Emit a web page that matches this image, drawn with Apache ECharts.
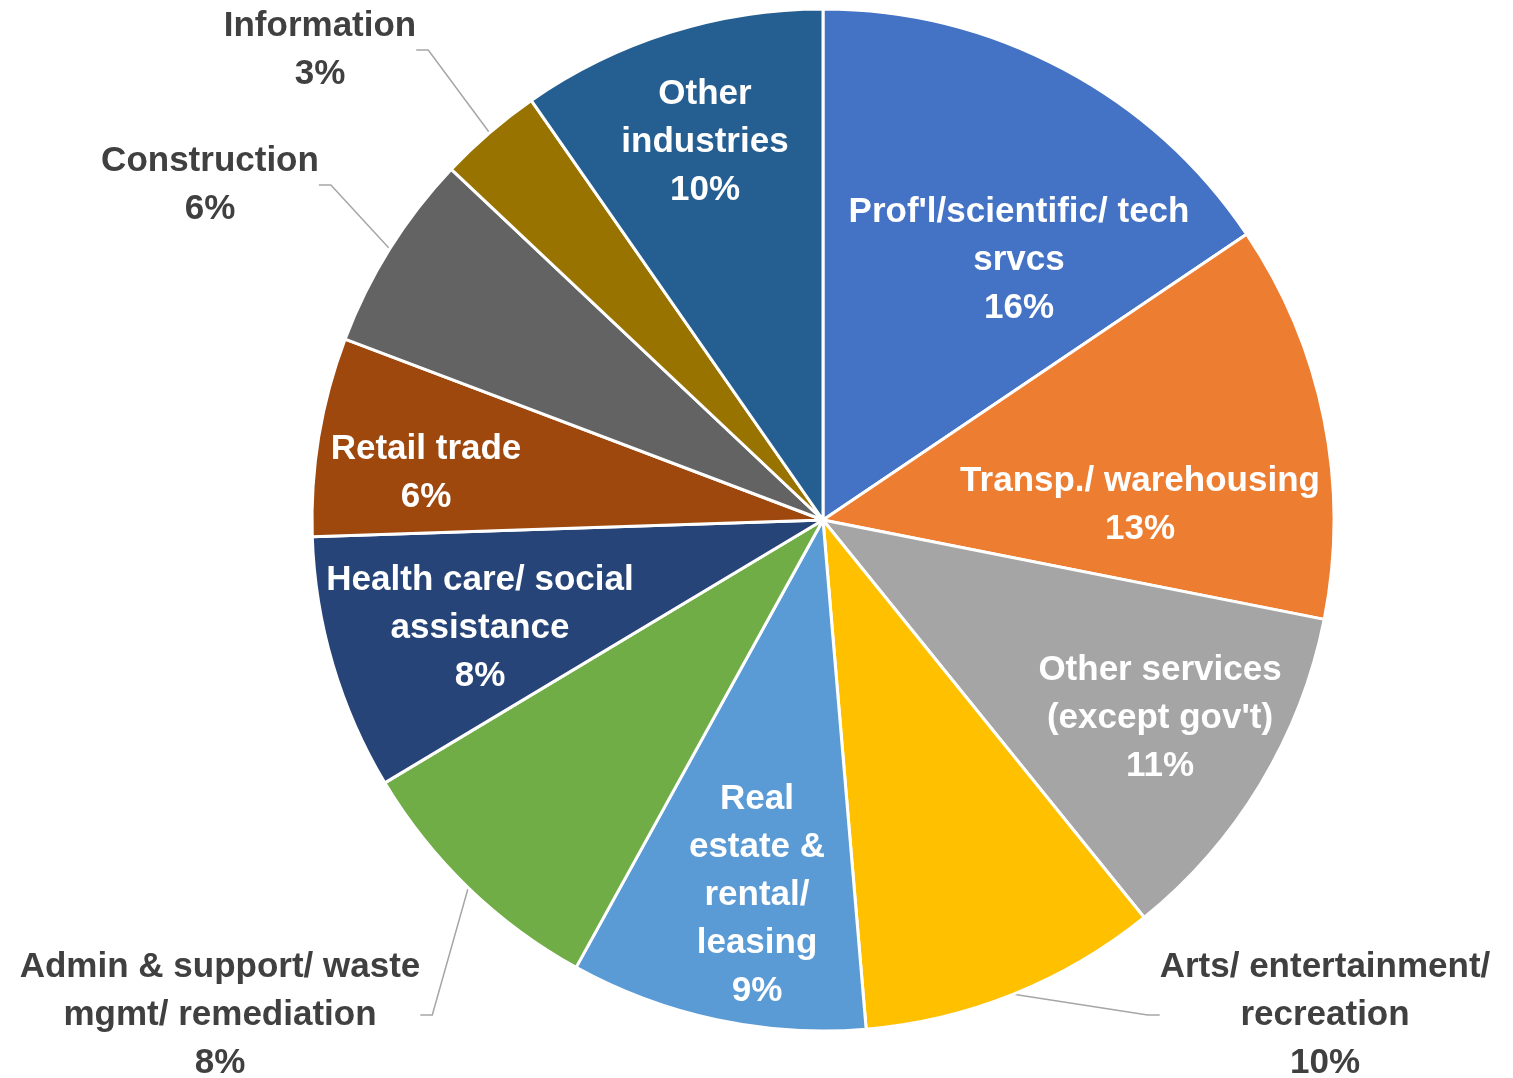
<!DOCTYPE html>
<html>
<head>
<meta charset="utf-8">
<title>Industry share</title>
<script src="https://cdn.jsdelivr.net/npm/echarts@6/dist/echarts.min.js"></script>
<style>
  html, body { margin: 0; padding: 0; background: #fff; }
  #main { width: 1513px; height: 1078px; }
</style>
</head>
<body>
<div id="main"></div>
<script>
// 数据
const categories = [
  "Prof'l/scientific/ tech\nsrvcs",
  "Transp./ warehousing",
  "Other services\n(except gov't)",
  "Arts/ entertainment/\nrecreation",
  "Real\nestate &\nrental/\nleasing",
  "Admin & support/ waste\nmgmt/ remediation",
  "Health care/ social\nassistance",
  "Retail trade",
  "Construction",
  "Information",
  "Other\nindustries"
]
const values = [15.6, 12.6, 11.1, 9.5, 9.4, 8.4, 8.1, 6.3, 6.3, 3.3, 9.7]
const pctLabels = ['16%', '13%', '11%', '10%', '9%', '8%', '8%', '6%', '6%', '3%', '10%']
const colors = ['#4472C4', '#ED7D31', '#A5A5A5', '#FFC000', '#5B9BD5', '#70AD47',
  '#264478', '#9E480E', '#636363', '#997300', '#255E91']
const outsideIdx = [3, 5, 8, 9]

// 标签位置（相对圆心）
const cx = 823, cy = 520
const labelOffsets = [
  [196, -260], [317, -15], [337, 198], [502, 495], [-66, 375], [-603, 495],
  [-343, 108], [-397, -47], [-613, -335], [-503, -470], [-118, -378]
]

const FONT = '"Liberation Sans", Arial, sans-serif'

const myChart = echarts.init(document.getElementById('main'))
myChart.setOption({
  animation: false,
  series: [{
    type: 'pie',
    center: [cx, cy],
    radius: 511,
    startAngle: 90,
    clockwise: true,
    avoidLabelOverlap: false,
    itemStyle: { borderColor: '#fff', borderWidth: 3 },
    labelLine: { length: 20, length2: 12, lineStyle: { color: '#A6A6A6', width: 1.5 } },
    labelLayout: function (params) {
      const o = labelOffsets[params.dataIndex]
      return { x: cx + o[0], y: cy + o[1], align: 'center', verticalAlign: 'middle', hideOverlap: false }
    },
    data: values.map((v, i) => {
      const outside = outsideIdx.indexOf(i) >= 0
      return {
        name: categories[i],
        value: v,
        itemStyle: { color: colors[i] },
        label: {
          show: true,
          position: outside ? 'outside' : 'inside',
          formatter: categories[i] + '\n' + pctLabels[i],
          color: outside ? '#404040' : '#fff',
          fontFamily: FONT,
          fontWeight: 'bold',
          fontSize: 35,
          lineHeight: 48,
          align: 'center'
        },
        labelLine: { show: outside }
      }
    })
  }]
})
</script>
</body>
</html>
